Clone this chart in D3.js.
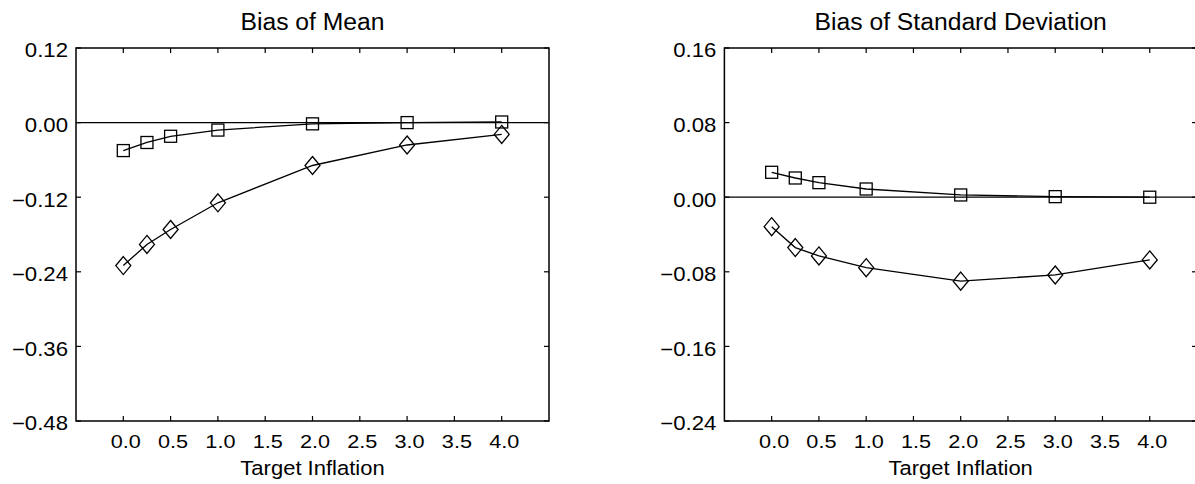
<!DOCTYPE html>
<html><head><meta charset="utf-8">
<script src="https://cdn.jsdelivr.net/npm/d3@7"></script>
<style>
body{margin:0;background:#fff;overflow:hidden}
text{font-family:"Liberation Sans",Arial,Helvetica,sans-serif;fill:#000}
</style>
</head><body>
<svg id="c" width="1195" height="484"></svg>
<script>
// ---- data ----
const targets = [0, 0.25, 0.5, 1, 2, 3, 4];
const meanSquares  = [-0.045, -0.032, -0.022, -0.012, -0.002, 0.000, 0.001];
const meanDiamonds = [-0.230, -0.196, -0.172, -0.129, -0.069, -0.036, -0.019];
const sdSquares    = [0.0267, 0.0206, 0.0156, 0.0088, 0.0024, 0.0006, 0.0000];
const sdDiamonds   = [-0.0316, -0.054, -0.063, -0.0756, -0.090, -0.0834, -0.0673];
const xTickLabels  = ["0.0","0.5","1.0","1.5","2.0","2.5","3.0","3.5","4.0"];
const xTickValues  = [0, 0.5, 1, 1.5, 2, 2.5, 3, 3.5, 4];
const meanYTicks   = [0.12, 0.00, -0.12, -0.24, -0.36, -0.48];
const sdYTicks     = [0.16, 0.08, 0.00, -0.08, -0.16, -0.24];
const titles       = ["Bias of Mean", "Bias of Standard Deviation"];
const xLabel       = "Target Inflation";

(function () {
const svg = d3.select("#c");
const fmt = d3.format(".2f");

const panels = [
  {title: titles[0], left: 76,    right: 549,  yTicks: meanYTicks, sq: meanSquares, di: meanDiamonds},
  {title: titles[1], left: 724.4, right: 1197, yTicks: sdYTicks,   sq: sdSquares,   di: sdDiamonds}
];
const yTop = 48, yBottom = 421, tick = 5;
const sx = 1.14; // horizontal stretch of the axis texts

panels.forEach(p => {
  const g = svg.append("g");
  const x = d3.scaleLinear().domain([-0.5, 4.5]).range([p.left, p.right]);
  const y = d3.scaleLinear().domain([d3.min(p.yTicks), d3.max(p.yTicks)]).range([yBottom, yTop]);

  // zero line
  g.append("line").attr("x1", p.left).attr("x2", p.right)
    .attr("y1", y(0)).attr("y2", y(0)).attr("stroke", "#000").attr("stroke-width", 1.3);

  // frame
  g.append("rect").attr("x", p.left).attr("y", yTop)
    .attr("width", p.right - p.left).attr("height", yBottom - yTop)
    .attr("fill", "none").attr("stroke", "#000").attr("stroke-width", 1.5);

  // top and bottom ticks
  g.selectAll(".tt").data(xTickValues).join("line")
    .attr("x1", d => x(d)).attr("x2", d => x(d))
    .attr("y1", yTop).attr("y2", yTop + tick).attr("stroke", "#000").attr("stroke-width", 1.2);
  g.selectAll(".bt").data(xTickValues).join("line")
    .attr("x1", d => x(d)).attr("x2", d => x(d))
    .attr("y1", yBottom).attr("y2", yBottom - tick).attr("stroke", "#000").attr("stroke-width", 1.2);
  // bottom labels
  g.selectAll(".bl").data(xTickValues).join("text")
    .attr("transform", d => `translate(${x(d) + 2.5},448) scale(${sx},1)`)
    .attr("text-anchor", "middle").attr("font-size", 19)
    .text((d, i) => xTickLabels[i]);
  // x label
  g.append("text").attr("transform", `translate(${(p.left + p.right) / 2},474.5) scale(${sx},1)`)
    .attr("text-anchor", "middle").attr("font-size", 19.3).text(xLabel);

  // y ticks left and right
  g.selectAll(".yl").data(p.yTicks).join("line")
    .attr("x1", p.left).attr("x2", p.left + tick)
    .attr("y1", d => y(d)).attr("y2", d => y(d)).attr("stroke", "#000").attr("stroke-width", 1.2);
  g.selectAll(".yr").data(p.yTicks).join("line")
    .attr("x1", p.right).attr("x2", p.right - tick)
    .attr("y1", d => y(d)).attr("y2", d => y(d)).attr("stroke", "#000").attr("stroke-width", 1.2);
  g.selectAll(".ylab").data(p.yTicks).join("text")
    .attr("transform", d => `translate(${p.left - 8},${y(d) + 9.3}) scale(1.12,1)`)
    .attr("text-anchor", "end").attr("font-size", 19.8)
    .text(d => fmt(d));

  // title
  g.append("text").attr("x", (p.left + p.right) / 2).attr("y", 30)
    .attr("text-anchor", "middle").attr("font-size", 24.7).text(p.title);

  // series
  const line = d3.line().x((d, i) => x(targets[i])).y(d => y(d));
  [p.sq, p.di].forEach(s => {
    g.append("path").attr("d", line(s)).attr("fill", "none")
      .attr("stroke", "#000").attr("stroke-width", 1.3);
  });
  g.selectAll(".sq").data(p.sq).join("rect")
    .attr("x", (d, i) => x(targets[i]) - 6).attr("y", d => y(d) - 6)
    .attr("width", 12).attr("height", 12)
    .attr("fill", "none").attr("stroke", "#000").attr("stroke-width", 1.3);
  g.selectAll(".di").data(p.di).join("path")
    .attr("transform", (d, i) => `translate(${x(targets[i])},${y(d)})`)
    .attr("d", "M0,-9L7.5,0L0,9L-7.5,0Z")
    .attr("fill", "none").attr("stroke", "#000").attr("stroke-width", 1.3);
});
})();
</script>
</body></html>
